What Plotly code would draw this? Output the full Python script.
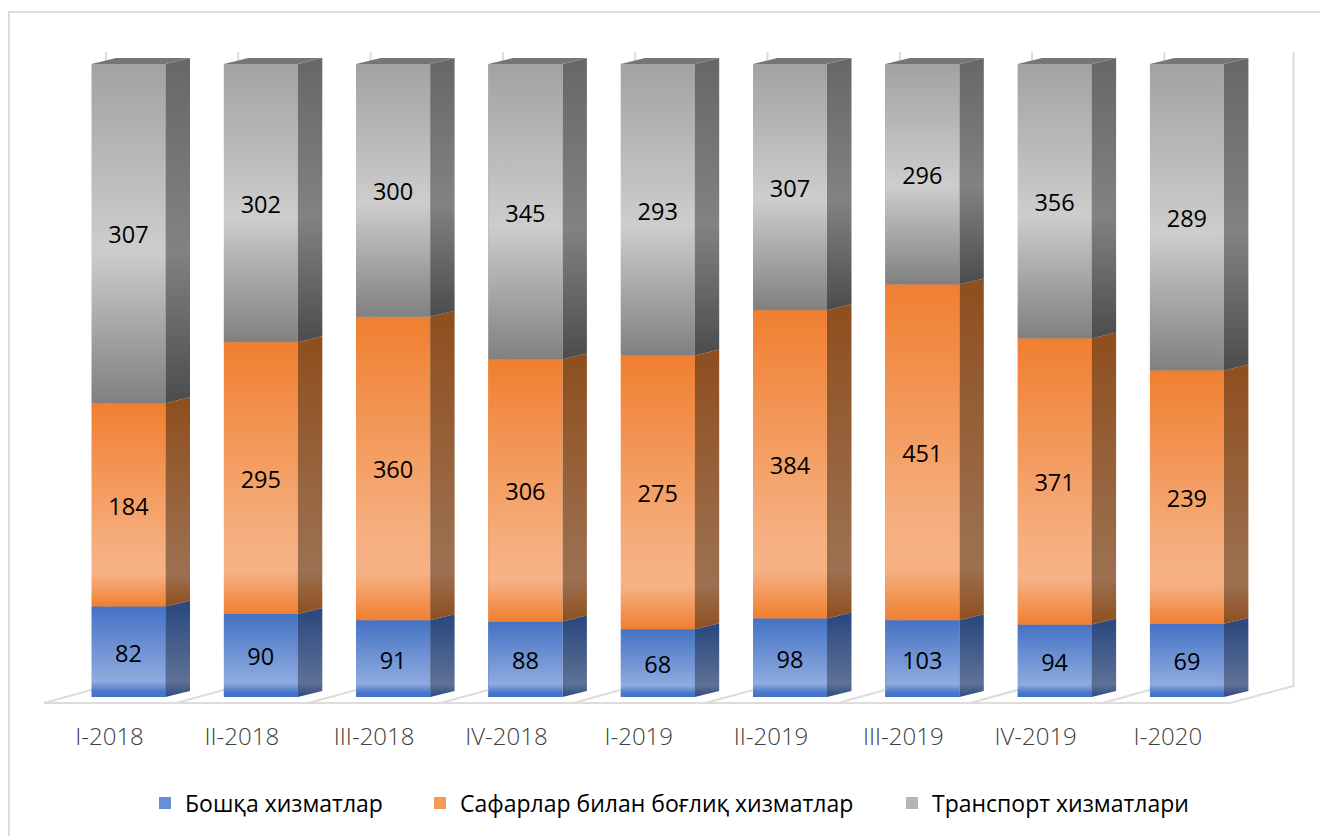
import plotly.graph_objects as go

categories = ["I-2018", "II-2018", "III-2018", "IV-2018", "I-2019", "II-2019", "III-2019", "IV-2019", "I-2020"]
other_services = [82, 90, 91, 88, 68, 98, 103, 94, 69]
travel_services = [184, 295, 360, 306, 275, 384, 451, 371, 239]
transport_services = [307, 302, 300, 345, 293, 307, 296, 356, 289]

series = [
    dict(name="Бошқа хизматлар", values=other_services, legend="legend", swatch="#6a8ed2", leg_x=145,
         front=[[0, "#4472c4"], [0.06, "#4a77c8"], [0.17, "#8fabdf"], [1, "#4472c4"]],
         side=[[0, "#2c4a80"], [0.17, "#5f7196"], [1, "#2c4a80"]]),
    dict(name="Сафарлар билан боғлиқ хизматлар", values=travel_services, legend="legend2", swatch="#f29a5c", leg_x=420,
         front=[[0, "#f07f30"], [0.16, "#f6b286"], [0.3, "#f5ae7e"], [1, "#f07f30"]],
         side=[[0, "#8f4f1f"], [0.16, "#9c7050"], [0.3, "#9a6c4a"], [1, "#8f4f1f"]]),
    dict(name="Транспорт хизматлари", values=transport_services, legend="legend3", swatch="#b5b5b5", leg_x=892,
         front=[[0, "#808080"], [0.45, "#cdcdcd"], [1, "#a2a2a2"]],
         side=[[0, "#4c4c4c"], [0.45, "#828282"], [1, "#686868"]]),
]

PX_W, PX_H = 1320, 836
PLOT_BOTTOM = 716
X0, DX = 128.5, 132.3      # pixel centre of first category, pixels per category
Y0, DY = 697.0, 6.33       # pixel of 0 %, pixels per percent
LABEL_DROP = 4.0           # data labels sit slightly under the segment centre, in pixels


def xd(px):
    return (px - X0) / DX


def yd(py):
    return (Y0 - py) / DY


bar_w = 74 / DX
dep_x = 24.5 / DX
dep_y = 6 / DY
GRID = "#dcdcdc"

fig = go.Figure()

# solid stacked columns through the library's percent stacking
for s in series:
    fig.add_trace(go.Bar(x=list(range(len(categories))), y=s["values"], name=s["name"], width=bar_w,
                         marker=dict(color=s["swatch"], line=dict(width=0)),
                         legend=s["legend"], hoverinfo="skip"))

# floor, right wall and the category lines of the 3D box
gx, gy = [], []
for k in range(len(categories)):
    gx += [xd(44 + DX * k), xd(44 + DX * k + 62), xd(44 + DX * k + 62), None]
    gy += [yd(703), yd(686), yd(52), None]
gx += [xd(44), xd(1230), xd(1293.5), xd(1293.5)]
gy += [yd(703), yd(703), yd(686), yd(52)]
fig.add_trace(go.Scatter(x=gx, y=gy, mode="lines", line=dict(color=GRID, width=2), showlegend=False, hoverinfo="skip"))

# gradient faces, computed from the same values
lab_x, lab_y, lab_t = [], [], []
for i in range(len(categories)):
    total = sum(s["values"][i] for s in series)
    base = 0.0
    left, right = i - bar_w / 2, i + bar_w / 2
    for s in series:
        v = s["values"][i]
        top = base + 100.0 * v / total
        fig.add_trace(go.Scatter(x=[right, right + dep_x, right + dep_x, right, right],
                                 y=[base, base + dep_y, top + dep_y, top, base],
                                 mode="lines", line=dict(width=0), fill="toself", showlegend=False, hoverinfo="skip",
                                 fillgradient=dict(type="vertical", colorscale=s["side"], start=base, stop=top)))
        fig.add_trace(go.Scatter(x=[left, right, right, left, left], y=[base, base, top, top, base],
                                 mode="lines", line=dict(width=0), fill="toself", showlegend=False, hoverinfo="skip",
                                 fillgradient=dict(type="vertical", colorscale=s["front"], start=base, stop=top)))
        lab_x.append(i)
        lab_y.append((base + top) / 2 - LABEL_DROP / DY)
        lab_t.append(str(v))
        base = top
    fig.add_trace(go.Scatter(x=[left, left + dep_x, right + dep_x, right, left],
                             y=[100, 100 + dep_y, 100 + dep_y, 100, 100],
                             mode="lines", line=dict(width=0), fill="toself", fillcolor="#767676",
                             showlegend=False, hoverinfo="skip"))

fig.add_trace(go.Scatter(x=lab_x, y=lab_y, text=lab_t, mode="text", showlegend=False, hoverinfo="skip",
                         textfont=dict(family="Open Sans", size=23.5, color="#000000")))

legend_style = dict(orientation="h", xanchor="left", yanchor="middle", bgcolor="rgba(0,0,0,0)",
                    font=dict(family="Open Sans", size=23, color="#000000"), y=-(803 - PLOT_BOTTOM) / PLOT_BOTTOM)
fig.update_layout(
    width=PX_W, height=PX_H, autosize=False,
    margin=dict(l=0, r=0, t=0, b=PX_H - PLOT_BOTTOM),
    paper_bgcolor="#ffffff", plot_bgcolor="#ffffff",
    barmode="stack", barnorm="percent", showlegend=True,
    xaxis=dict(range=[xd(0), xd(PX_W)], tickmode="array", tickvals=list(range(len(categories))), ticktext=categories,
               tickfont=dict(family="Open Sans", size=24, color="#404040", weight=300),
               showgrid=False, zeroline=False, showline=False, ticks="", ticklabelstandoff=4, ticklabelshift=-19),
    yaxis=dict(range=[yd(PLOT_BOTTOM), yd(0)], visible=False),
    legend=dict(x=series[0]["leg_x"] / PX_W, **legend_style),
    legend2=dict(x=series[1]["leg_x"] / PX_W, **legend_style),
    legend3=dict(x=series[2]["leg_x"] / PX_W, **legend_style),
    shapes=[dict(type="path", xref="paper", yref="paper",
                 path=f"M {9 / PX_W} {-(PX_H + 5 - PLOT_BOTTOM) / PLOT_BOTTOM} L {9 / PX_W} {(PLOT_BOTTOM - 12) / PLOT_BOTTOM} L 1.01 {(PLOT_BOTTOM - 12) / PLOT_BOTTOM}",
                 line=dict(color=GRID, width=2), layer="below")],
)

fig.write_html("out.html", config=dict(displayModeBar=False),
               post_script="document.body.style.margin='0';document.body.style.overflow='hidden';")
